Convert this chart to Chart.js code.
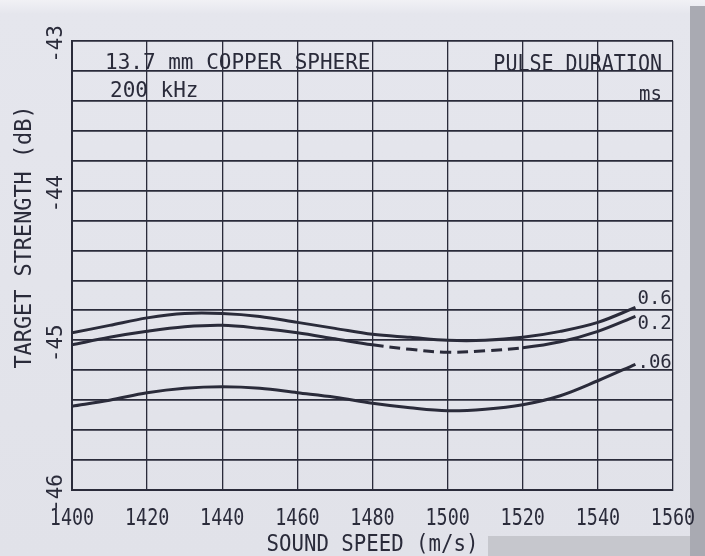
<!DOCTYPE html>
<html><head><meta charset="utf-8">
<script src="https://cdn.jsdelivr.net/npm/chart.js@4.4.1/dist/chart.umd.min.js"></script>
<style>
html,body{margin:0;padding:0;background:#e2e3ea;}
#wrap{position:relative;width:705px;height:556px;overflow:hidden;background:linear-gradient(#f1f1f5 0,#e5e6ed 14px,#e1e2e9 100%);}
.strip{position:absolute;background:#a9aab2;}
canvas{position:absolute;left:0;top:0;}
</style></head><body>
<div id="wrap">
  <div class="strip" style="left:690px;top:6px;width:15px;height:550px"></div>
  <div class="strip" style="left:488px;top:536px;width:202px;height:20px;background:#c6c7cd"></div>
  <canvas id="c" width="705" height="556"></canvas>
</div>
<script>
// sound speed (m/s) and target strength (dB) per pulse duration
const speeds=[1400,1410,1420,1430,1440,1450,1460,1470,1480,1490,1500,1510,1520,1530,1540,1550];
const ts06=[-44.95,-44.90,-44.85,-44.82,-44.82,-44.84,-44.88,-44.92,-44.96,-44.98,-45.00,-45.00,-44.98,-44.94,-44.88,-44.78];
const ts02=[-45.03,-44.98,-44.94,-44.91,-44.90,-44.92,-44.95,-44.99,-45.03,-45.06,-45.08,-45.07,-45.05,-45.01,-44.94,-44.84];
const ts006=[-45.44,-45.40,-45.35,-45.32,-45.31,-45.32,-45.35,-45.38,-45.42,-45.45,-45.47,-45.46,-45.43,-45.37,-45.27,-45.16];
const pulses=['0.6','0.2','.06'];
const yLabels=[-43,-44,-45,-46];
const title1='13.7 mm COPPER SPHERE', title2='200 kHz';
const legTitle='PULSE DURATION', legUnit='ms';
const xTitle='SOUND SPEED (m/s)', yTitle='TARGET STRENGTH (dB)';

const INK='#2a2b3a';
const pts=arr=>speeds.map((s,i)=>({x:s,y:arr[i]}));

function txt(ctx,s,x,y,px,al,sx,rot){
  ctx.save();ctx.translate(x,y);if(rot)ctx.rotate(rot);ctx.scale(sx||1,1);
  ctx.font=px+'px "DejaVu Sans Mono"';ctx.textAlign=al||'center';ctx.textBaseline='alphabetic';
  ctx.fillStyle=INK;ctx.fillText(s,0,px*0.365);ctx.restore();
}

const paperText={id:'paperText',afterDraw(chart){
  const ctx=chart.ctx,xs=chart.scales.x,ys=chart.scales.y,a=chart.chartArea;
  yLabels.forEach(v=>txt(ctx,String(v),54,ys.getPixelForValue(v)+3,22,'center',0.95,-Math.PI/2));
  xs.ticks.forEach(t=>txt(ctx,String(t.value),xs.getPixelForValue(t.value),517,23,'center',0.8));
  txt(ctx,xTitle,(a.left+a.right)/2,543,23,'center',0.9);
  txt(ctx,yTitle,23,237,23,'center',0.95,-Math.PI/2);
  txt(ctx,title1,a.left+33,61,21,'left',1);
  txt(ctx,title2,a.left+38,89,21,'left',1);
  txt(ctx,legTitle,a.right-11,63,23,'right',0.87);
  txt(ctx,legUnit,a.right-11,93,20,'right',0.95);
  const dy=[-11,5,-4];
  chart.data.datasets.forEach((d,i)=>{
    const m=chart.getDatasetMeta(i),p=m.data[m.data.length-1];
    txt(ctx,pulses[i],p.x+2,p.y+dy[i],20,'left',0.95);
  });
}};

const line=(arr,extra)=>Object.assign({data:pts(arr),borderColor:INK,borderWidth:3,pointRadius:0,tension:0.35,fill:false},extra||{});

new Chart(document.getElementById('c'),{
  type:'line',
  data:{datasets:[
    line(ts06),
    line(ts02,{segment:{borderDash:c=>(c.p0.parsed.x>=1480&&c.p1.parsed.x<=1520)?[11,6]:undefined}}),
    line(ts006)
  ]},
  options:{
    responsive:false,animation:false,
    layout:{padding:{top:41,right:32,left:0,bottom:0}},
    plugins:{legend:{display:false},tooltip:{enabled:false}},
    scales:{
      x:{type:'linear',min:1400,max:1560,ticks:{stepSize:20,display:false},
        grid:{color:INK,lineWidth:1.3,drawTicks:false},border:{color:INK,width:2},
        afterFit:s=>{s.height=66;}},
      y:{min:-46,max:-43,ticks:{stepSize:0.2,display:false},
        grid:{color:INK,lineWidth:1.8,drawTicks:false},border:{color:INK,width:2},
        afterFit:s=>{s.width=72;}}
    }
  },
  plugins:[paperText]
});
</script>
</body></html>
